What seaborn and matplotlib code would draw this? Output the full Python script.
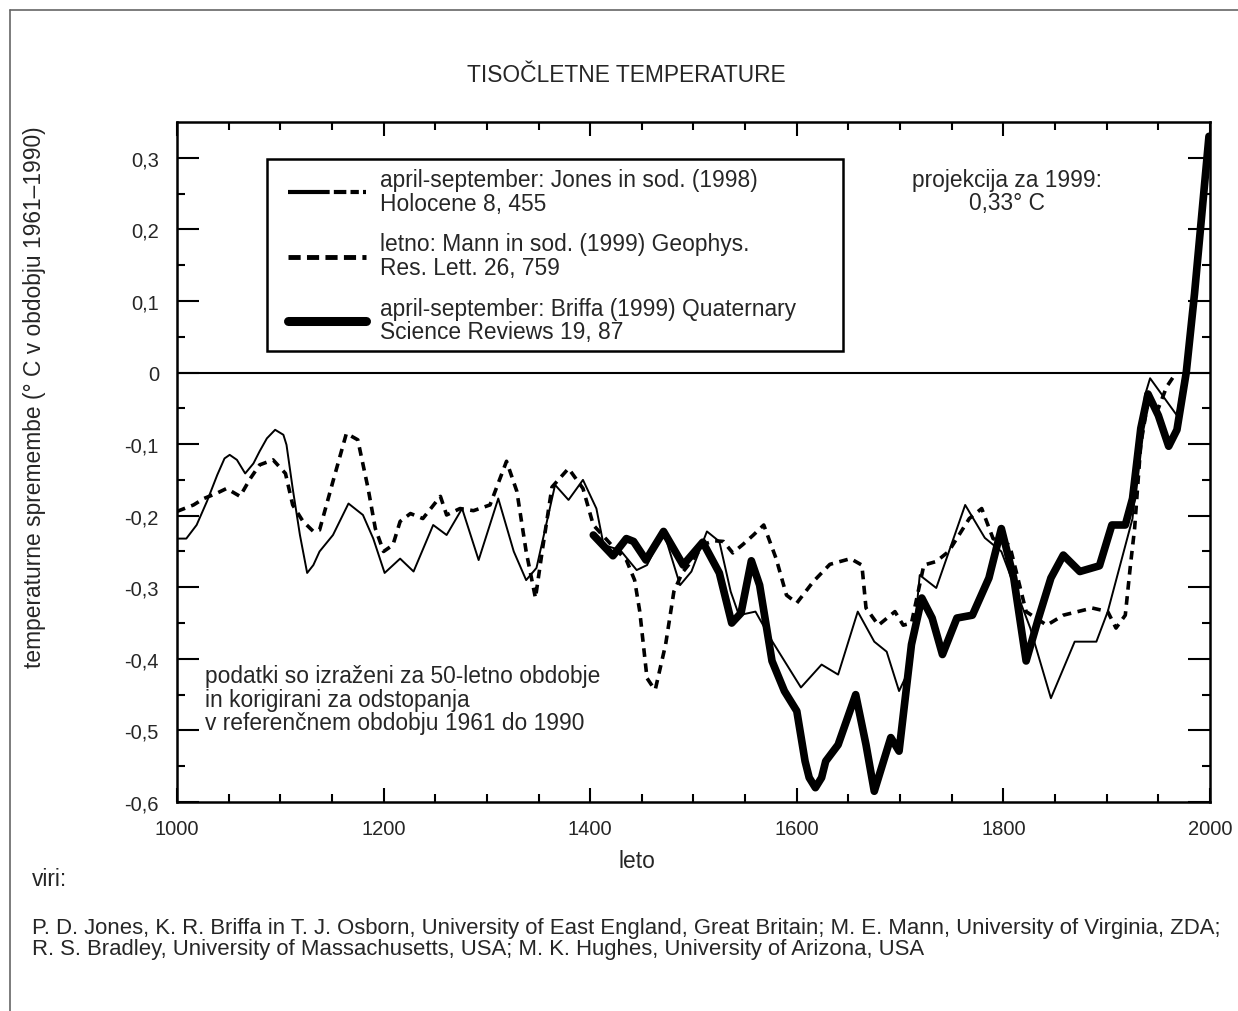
import matplotlib
matplotlib.use("Agg")
import matplotlib.pyplot as plt
from matplotlib.lines import Line2D
from matplotlib.patches import Rectangle
import seaborn as sns
import numpy as np

# ---------------- data ----------------
jones_years = [1000, 1009, 1019, 1029, 1039, 1046, 1051, 1058, 1066, 1074, 1080, 1087, 1095, 1103,
               1106, 1112, 1119, 1126, 1132, 1138, 1151, 1166, 1180, 1190, 1201, 1216, 1229, 1248,
               1261, 1276, 1292, 1311, 1326, 1338, 1348, 1366, 1379, 1393, 1406, 1413, 1429, 1445,
               1455, 1471, 1487, 1498, 1513, 1525, 1536, 1544, 1560, 1576, 1604, 1624, 1640, 1659,
               1675, 1687, 1699, 1711, 1719, 1735, 1763, 1782, 1798, 1826, 1846, 1869, 1890, 1901,
               1925, 1937, 1942, 1968, 1975]
jones_vals = [-0.232, -0.232, -0.213, -0.180, -0.143, -0.120, -0.115, -0.122, -0.141, -0.127, -0.110,
              -0.092, -0.080, -0.087, -0.101, -0.162, -0.227, -0.280, -0.269, -0.250, -0.227, -0.183,
              -0.199, -0.232, -0.280, -0.260, -0.278, -0.213, -0.227, -0.190, -0.262, -0.176, -0.250,
              -0.290, -0.273, -0.157, -0.178, -0.150, -0.190, -0.241, -0.248, -0.276, -0.269, -0.222,
              -0.297, -0.278, -0.222, -0.236, -0.306, -0.339, -0.334, -0.375, -0.440, -0.408, -0.422,
              -0.334, -0.376, -0.390, -0.445, -0.408, -0.283, -0.301, -0.185, -0.231, -0.250, -0.357,
              -0.455, -0.376, -0.376, -0.334, -0.204, -0.032, -0.008, -0.060, 0.000]

mann_years = [1000, 1016, 1026, 1038, 1048, 1061, 1071, 1080, 1093, 1105, 1112, 1122, 1132, 1138,
              1151, 1164, 1175, 1185, 1192, 1200, 1209, 1216, 1226, 1238, 1255, 1261, 1274, 1287,
              1303, 1319, 1329, 1338, 1347, 1354, 1363, 1379, 1393, 1403, 1420, 1435, 1443, 1448,
              1455, 1461, 1463, 1473, 1481, 1489, 1500, 1510, 1520, 1529, 1538, 1548, 1558, 1568,
              1580, 1590, 1600, 1616, 1632, 1652, 1663, 1667, 1679, 1695, 1703, 1711, 1723, 1735,
              1747, 1767, 1779, 1790, 1806, 1822, 1842, 1858, 1886, 1901, 1909, 1918, 1923, 1927,
              1933, 1940, 1950, 1958, 1965]
mann_vals = [-0.194, -0.185, -0.176, -0.169, -0.162, -0.173, -0.148, -0.129, -0.122, -0.141, -0.185,
             -0.208, -0.222, -0.220, -0.152, -0.085, -0.094, -0.162, -0.218, -0.250, -0.241, -0.208,
             -0.197, -0.204, -0.173, -0.199, -0.190, -0.193, -0.185, -0.124, -0.166, -0.250, -0.315,
             -0.245, -0.160, -0.134, -0.162, -0.213, -0.240, -0.262, -0.290, -0.334, -0.427, -0.440,
             -0.443, -0.380, -0.306, -0.280, -0.260, -0.240, -0.235, -0.236, -0.252, -0.240, -0.227,
             -0.213, -0.260, -0.311, -0.322, -0.292, -0.268, -0.260, -0.269, -0.329, -0.353, -0.334,
             -0.353, -0.350, -0.269, -0.264, -0.250, -0.204, -0.190, -0.232, -0.241, -0.334, -0.353,
             -0.339, -0.329, -0.334, -0.357, -0.339, -0.269, -0.218, -0.100, -0.040, -0.050, -0.020,
             -0.005]

briffa_years = [1403, 1422, 1435, 1442, 1454, 1471, 1490, 1509, 1525, 1537, 1546, 1556, 1564, 1576,
                1588, 1600, 1608, 1612, 1618, 1624, 1628, 1640, 1657, 1667, 1675, 1691, 1699, 1711,
                1721, 1731, 1741, 1755, 1770, 1786, 1798, 1810, 1822, 1834, 1846, 1858, 1874, 1893,
                1905, 1918, 1925, 1933, 1940, 1950, 1960, 1968, 1977, 1985, 1992, 1999]
briffa_vals = [-0.227, -0.256, -0.232, -0.236, -0.262, -0.222, -0.269, -0.237, -0.280, -0.350, -0.336,
               -0.263, -0.297, -0.403, -0.445, -0.473, -0.543, -0.566, -0.580, -0.566, -0.543, -0.520,
               -0.450, -0.520, -0.585, -0.510, -0.529, -0.380, -0.315, -0.343, -0.394, -0.343, -0.339,
               -0.287, -0.218, -0.287, -0.403, -0.343, -0.287, -0.255, -0.278, -0.270, -0.213, -0.213,
               -0.176, -0.078, -0.030, -0.060, -0.103, -0.080, 0.000, 0.110, 0.220, 0.330]

y_ticks = [0.3, 0.2, 0.1, 0.0, -0.1, -0.2, -0.3, -0.4, -0.5, -0.6]
y_tick_labels = ["0,3", "0,2", "0,1", "0", "-0,1", "-0,2", "-0,3", "-0,4", "-0,5", "-0,6"]
x_ticks = [1000, 1200, 1400, 1600, 1800, 2000]
x_tick_labels = ["1000", "1200", "1400", "1600", "1800", "2000"]

legend_labels = [
    "april-september: Jones in sod. (1998)\nHolocene 8, 455",
    "letno: Mann in sod. (1999) Geophys.\nRes. Lett. 26, 759",
    "april-september: Briffa (1999) Quaternary\nScience Reviews 19, 87",
]

title = "TISOČLETNE TEMPERATURE"
x_label = "leto"
y_label = "temperaturne spremembe (° C v obdobju 1961–1990)"
projection_note = "projekcija za 1999:\n0,33° C"
data_note = "podatki so izraženi za 50-letno obdobje\nin korigirani za odstopanja\nv referenčnem obdobju 1961 do 1990"
sources_head = "viri:"
sources_text = ("P. D. Jones, K. R. Briffa in T. J. Osborn, University of East England, Great Britain; "
                "M. E. Mann, University of Virginia, ZDA;\n"
                "R. S. Bradley, University of Massachusetts, USA; M. K. Hughes, University of Arizona, USA")

# ---------------- style ----------------
sns.set_style("ticks")
plt.rcParams['font.family'] = ['Liberation Sans', 'DejaVu Sans']
FS = 16.4
SFS = 15.9
TFS = 14.5
LSP = 1.03

W, H = 1238, 1012
fig = plt.figure(figsize=(W / 100, H / 100), dpi=100)
fig.patch.set_facecolor("white")

ax = fig.add_axes([177 / W, 1 - 803 / H, (1210 - 177) / W, (803 - 123) / H])

sns.lineplot(x=jones_years, y=jones_vals, ax=ax, color="black", lw=1.4, sort=False, estimator=None)
sns.lineplot(x=mann_years, y=mann_vals, ax=ax, color="black", lw=2.6, sort=False, estimator=None,
             linestyle=(0, (2.4, 1.8)))
sns.lineplot(x=briffa_years, y=briffa_vals, ax=ax, color="black", lw=5.5, sort=False, estimator=None,
             solid_joinstyle="round", solid_capstyle="round")

ax.axhline(0, color="black", lw=1.5, zorder=1)

ax.set_xlim(1000, 2000)
ax.set_ylim(-0.6, 0.35)

ax.set_xticks(x_ticks)
ax.set_xticklabels(x_tick_labels, fontsize=TFS)
ax.set_xticks(np.arange(1050, 2000, 50), minor=True)
ax.set_yticks(y_ticks)
ax.set_yticklabels(y_tick_labels, fontsize=TFS)
ax.set_yticks(np.arange(-0.55, 0.35, 0.1), minor=True)

ax.tick_params(axis="both", which="major", direction="in", top=True, right=True,
               length=10, width=1.5, color="black")
ax.tick_params(axis="both", which="minor", direction="in", top=True, right=True,
               length=6, width=1.5, color="black")
ax.tick_params(axis="y", which="major", length=16, pad=13)
ax.tick_params(axis="x", which="major", pad=12)
for s in ax.spines.values():
    s.set_visible(True)
    s.set_linewidth(1.8)
    s.set_color("black")

ax.set_xlabel("")
ax.set_ylabel("")

# legend (frame drawn separately to match the asymmetric padding of the original)
handles = [
    Line2D([], [], color="black", lw=3.0, linestyle=(0, (10, 1, 3, 1, 2, 1, 2, 1))),
    Line2D([], [], color="black", lw=3.5, linestyle=(0, (2.5, 1.3))),
    Line2D([], [], color="black", lw=6.5),
]
leg = ax.legend(handles, legend_labels, loc="upper left",
                bbox_to_anchor=(288 / W, 1 - 169 / H), bbox_transform=fig.transFigure,
                fontsize=FS, frameon=False,
                handlelength=3.42, handletextpad=0.6, labelspacing=0.78,
                borderpad=0.0, borderaxespad=0.0)
for t in leg.get_texts():
    t.set_linespacing(LSP)
fig.add_artist(Rectangle((267 / W, 1 - 352 / H), (843 - 267) / W, (352 - 160) / H,
                         transform=fig.transFigure, fill=False, edgecolor="black", lw=1.8,
                         zorder=5))

# texts
fig.text(626 / W, 1 - 75 / H, title, ha="center", va="center", fontsize=FS)
fig.text(637 / W, 1 - 862 / H, x_label, ha="center", va="center", fontsize=FS)
fig.text(35 / W, 1 - 397 / H, y_label, ha="center", va="center", rotation=90, fontsize=FS)
fig.text(1007 / W, 1 - 192 / H, projection_note, ha="center", va="center", fontsize=FS,
         linespacing=LSP)
fig.text(205 / W, 1 - 700 / H, data_note, ha="left", va="center", fontsize=FS, linespacing=LSP)
fig.text(32 / W, 1 - 880 / H, sources_head, ha="left", va="center", fontsize=FS)
fig.text(32 / W, 1 - 939 / H, sources_text, ha="left", va="center", fontsize=SFS, linespacing=LSP)

# outer border (top and left visible)
fig.add_artist(Line2D([10 / W, 1.0], [1 - 11 / H, 1 - 11 / H], transform=fig.transFigure,
                      color="#666666", lw=1.2))
fig.add_artist(Line2D([10 / W, 10 / W], [0.0, 1 - 11 / H], transform=fig.transFigure,
                      color="#666666", lw=1.2))

fig.savefig("out.png", dpi=100, facecolor="white")
